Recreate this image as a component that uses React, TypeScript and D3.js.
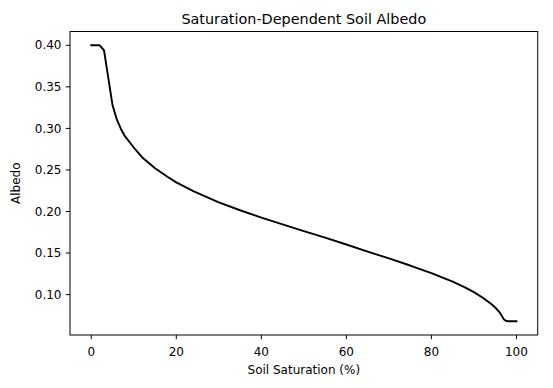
import React, { useEffect, useRef } from 'react';
import * as d3 from 'd3';

// values
const saturation = [0, 2, 3, 5, 6, 7, 8, 10, 12, 15, 18, 20, 24, 30, 35, 40, 45, 50, 55, 60, 65, 70, 75, 80, 85, 88, 90, 92, 94, 95, 96, 96.5, 97, 97.5, 98, 100];
const albedo = [0.4, 0.4, 0.394, 0.328, 0.311, 0.299, 0.29, 0.277, 0.265, 0.252, 0.2415, 0.235, 0.2245, 0.211, 0.2015, 0.1927, 0.1845, 0.1765, 0.1685, 0.1603, 0.1518, 0.1435, 0.135, 0.1258, 0.1155, 0.1085, 0.103, 0.0965, 0.089, 0.0845, 0.079, 0.075, 0.0705, 0.0685, 0.068, 0.068];
const xTicks = [0, 20, 40, 60, 80, 100];
const yTicks = [0.1, 0.15, 0.2, 0.25, 0.3, 0.35, 0.4];

function AlbedoChart({ width = 553, height = 388 }) {
    const ref = useRef<SVGSVGElement>(null);

    useEffect(() => {
        const svg = d3.select(ref.current);
        svg.selectAll("*").remove();

        const margin = { top: 31.5, right: 15.3, bottom: 53, left: 70 };
        const x0 = margin.left, x1 = width - margin.right;
        const y0 = margin.top, y1 = height - margin.bottom;

        // matplotlib style 5% padding
        const xr = d3.extent(saturation) as [number, number];
        const yr = d3.extent(albedo) as [number, number];
        const xp = (xr[1] - xr[0]) * 0.05, yp = (yr[1] - yr[0]) * 0.05;
        const x = d3.scaleLinear().domain([xr[0] - xp, xr[1] + xp]).range([x0, x1]);
        const y = d3.scaleLinear().domain([yr[0] - yp, yr[1] + yp]).range([y1, y0]);

        const font = "DejaVu Sans";
        const tickLen = 4.2;

        const line = d3.line<number>()
            .x((d, i) => x(saturation[i]))
            .y(d => y(d));

        svg.append("path")
            .datum(albedo)
            .attr("d", line)
            .attr("fill", "none")
            .attr("stroke", "#000")
            .attr("stroke-width", 1.9)
            .attr("stroke-linejoin", "round")
            .attr("stroke-linecap", "square");

        // frame
        svg.append("rect")
            .attr("x", x0).attr("y", y0)
            .attr("width", x1 - x0).attr("height", y1 - y0)
            .attr("fill", "none")
            .attr("stroke", "#000")
            .attr("stroke-width", 1);

        // x ticks
        const gx = svg.append("g");
        gx.selectAll("line").data(xTicks).enter().append("line")
            .attr("x1", d => x(d)).attr("x2", d => x(d))
            .attr("y1", y1).attr("y2", y1 + tickLen)
            .attr("stroke", "#000").attr("stroke-width", 1);
        gx.selectAll("text").data(xTicks).enter().append("text")
            .attr("x", d => x(d)).attr("y", y1 + 21)
            .attr("text-anchor", "middle")
            .style("font-family", font).style("font-size", "12px")
            .text(d => d);

        // y ticks
        const gy = svg.append("g");
        gy.selectAll("line").data(yTicks).enter().append("line")
            .attr("x1", x0 - tickLen).attr("x2", x0)
            .attr("y1", d => y(d)).attr("y2", d => y(d))
            .attr("stroke", "#000").attr("stroke-width", 1);
        gy.selectAll("text").data(yTicks).enter().append("text")
            .attr("x", x0 - 8.5).attr("y", d => y(d))
            .attr("dy", "0.35em")
            .attr("text-anchor", "end")
            .style("font-family", font).style("font-size", "12px")
            .text(d => d.toFixed(2));

        svg.append("text")
            .attr("x", (x0 + x1) / 2).attr("y", y1 + 39)
            .attr("text-anchor", "middle")
            .style("font-family", font).style("font-size", "12px")
            .text("Soil Saturation (%)");

        svg.append("text")
            .attr("transform", `translate(20, ${(y0 + y1) / 2}) rotate(-90)`)
            .attr("text-anchor", "middle")
            .style("font-family", font).style("font-size", "12px")
            .text("Albedo");

        svg.append("text")
            .attr("x", (x0 + x1) / 2).attr("y", y0 - 8)
            .attr("text-anchor", "middle")
            .style("font-family", font).style("font-size", "14.4px")
            .text("Saturation-Dependent Soil Albedo");
    }, [width, height]);

    return (
        <svg ref={ref} width={width} height={height}
            style={{ position: "absolute", left: 0, top: 0, background: "#fff" }}></svg>
    );
}

export default function App() {
    return <AlbedoChart />;
}
